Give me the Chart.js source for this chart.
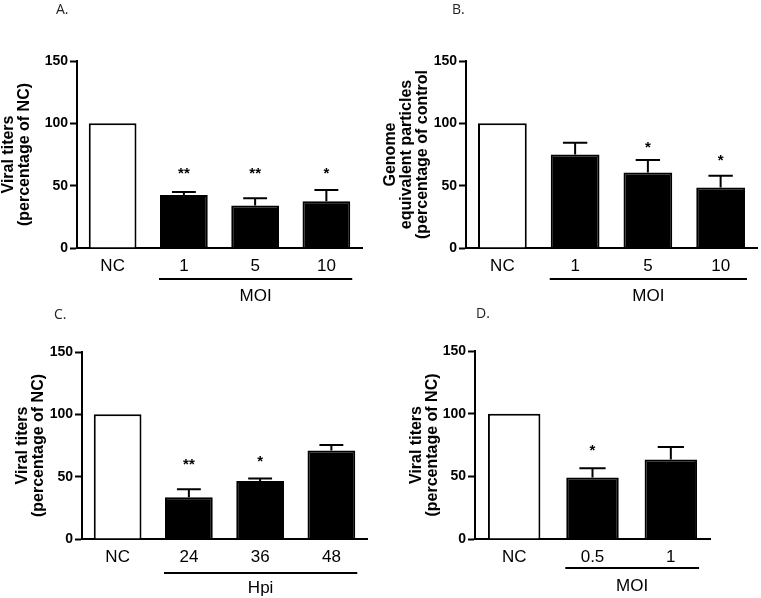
<!DOCTYPE html>
<html>
<head>
<meta charset="utf-8">
<script src="https://cdn.jsdelivr.net/npm/chart.js@4.4.0/dist/chart.umd.min.js"></script>
<style>
    body { margin: 0; background: #fff; }
    #wrap { position: relative; width: 761px; height: 598px; overflow: hidden; background: #fff; }
    #wrap canvas { position: absolute; }
    .tag { position: absolute; font: 14px "Open Sans", sans-serif; color: #222; line-height: 18px; }
</style>
</head>
<body>
<div id="wrap">
    <canvas id="chartA" width="380" height="310" style="left:0;top:0"></canvas>
    <canvas id="chartB" width="381" height="310" style="left:380px;top:0"></canvas>
    <canvas id="chartC" width="380" height="298" style="left:0;top:300px"></canvas>
    <canvas id="chartD" width="381" height="298" style="left:380px;top:300px"></canvas>
    <div class="tag" style="left:56px;top:0">A.</div>
    <div class="tag" style="left:452px;top:0">B.</div>
    <div class="tag" style="left:54px;top:305px">C.</div>
    <div class="tag" style="left:476px;top:304px">D.</div>
</div>
<script>
// panel A
var labelsA = ["NC", "1", "5", "10"];
var valuesA = [100, 42.5, 34, 37.5];
var errorsA = [0, 2.5, 6, 9];
var starsA = ["", "**", "**", "*"];
var starLevelsA = [0, 62, 62, 62];
var titleA = ["Viral titers", "(percentage of NC)"];
var groupA = "MOI";

// panel B
var labelsB = ["NC", "1", "5", "10"];
var valuesB = [100, 75, 60.5, 48.5];
var errorsB = [0, 9.5, 10, 9.5];
var starsB = ["", "", "*", "*"];
var starLevelsB = [0, 0, 82.5, 72];
var titleB = ["Genome", "equivalent particles", "(percentage of control"];
var groupB = "MOI";

// panel C
var labelsC = ["NC", "24", "36", "48"];
var valuesC = [100, 33.5, 46.5, 71];
var errorsC = [0, 6.5, 2, 4.5];
var starsC = ["", "**", "*", ""];
var starLevelsC = [0, 61.5, 64.5, 0];
var titleC = ["Viral titers", "(percentage of NC)"];
var groupC = "Hpi";

// panel D
var labelsD = ["NC", "0.5", "1"];
var valuesD = [100, 49, 63.5];
var errorsD = [0, 7.5, 10];
var starsD = ["", "*", ""];
var starLevelsD = [0, 73, 0];
var titleD = ["Viral titers", "(percentage of NC)"];
var groupD = "MOI";

var yTicks = [0, 50, 100, 150];

// error bars, stars and the group bracket under the axis
var extrasPlugin = {
    id: "extras",
    afterDatasetsDraw: function (chart, args, opts) {
        var ctx = chart.ctx;
        var y = chart.scales.y;
        var meta = chart.getDatasetMeta(0);
        ctx.save();
        ctx.strokeStyle = "#000";
        ctx.fillStyle = "#000";
        ctx.lineWidth = 2;
        meta.data.forEach(function (bar, i) {
            var err = opts.errors[i];
            if (err > 0) {
                var end = y.getPixelForValue(opts.values[i] + err);
                var half = bar.width / 4;
                ctx.beginPath();
                ctx.moveTo(bar.x, bar.y);
                ctx.lineTo(bar.x, end);
                ctx.moveTo(bar.x - half, end);
                ctx.lineTo(bar.x + half, end);
                ctx.stroke();
            }
            if (opts.stars[i]) {
                ctx.font = "bold 15px 'Liberation Sans', Arial";
                ctx.textAlign = "center";
                ctx.textBaseline = "middle";
                ctx.fillText(opts.stars[i], bar.x, y.getPixelForValue(opts.starLevels[i]) + 3);
            }
        });
        var first = meta.data[1];
        var last = meta.data[meta.data.length - 1];
        var x0 = first.x - first.width / 2 - 1;
        var x1 = last.x + last.width / 2 + 2;
        var bottom = chart.chartArea.bottom;
        ctx.beginPath();
        ctx.moveTo(x0, bottom + opts.lineGap);
        ctx.lineTo(x1, bottom + opts.lineGap);
        ctx.stroke();
        ctx.font = "17px 'Liberation Sans', Arial";
        ctx.textAlign = "center";
        ctx.textBaseline = "middle";
        ctx.fillText(opts.group, (x0 + x1) / 2, bottom + opts.labelGap);
        ctx.restore();
    }
};

function drawPanel(id, labels, values, errors, stars, starLevels, title, group, box) {
    var canvas = document.getElementById(id);
    new Chart(canvas, {
        type: "bar",
        data: {
            labels: labels,
            datasets: [
                {
                    data: values,
                    backgroundColor: values.map(function (v, i) { return i === 0 ? "#fff" : "#000"; }),
                    borderColor: "#000",
                    borderWidth: 2,
                    categoryPercentage: 1,
                    barPercentage: 0.67,
                },
            ],
        },
        options: {
            responsive: false,
            animation: false,
            layout: {
                padding: { left: 0, top: box.top, right: box.right, bottom: 0 },
            },
            plugins: {
                legend: { display: false },
                tooltip: { enabled: false },
                extras: {
                    values: values,
                    errors: errors,
                    stars: stars,
                    starLevels: starLevels,
                    group: group,
                    lineGap: box.lineGap,
                    labelGap: box.labelGap,
                },
            },
            scales: {
                x: {
                    afterFit: function (s) { s.height = canvas.height - box.bottom; },
                    grid: { display: false },
                    border: { display: true, color: "#000", width: 2 },
                    ticks: {
                        color: "#000",
                        padding: 2,
                        font: { family: "'Liberation Sans', Arial", size: 17, lineHeight: 1 },
                    },
                },
                y: {
                    min: 0,
                    max: 150,
                    afterFit: function (s) { s.width = box.left; },
                    afterBuildTicks: function (s) {
                        s.ticks = yTicks.map(function (v) { return { value: v }; });
                    },
                    grid: {
                        display: true,
                        drawOnChartArea: false,
                        drawTicks: true,
                        tickLength: 7,
                        tickWidth: 2,
                        color: "#000",
                    },
                    border: { display: true, color: "#000", width: 2 },
                    ticks: {
                        color: "#000",
                        padding: 2,
                        font: { family: "'Liberation Sans', Arial", size: 14, weight: "bold" },
                    },
                    title: {
                        display: true,
                        text: title,
                        color: "#000",
                        padding: { top: box.titlePad, bottom: 0 },
                        font: { family: "'Liberation Sans', Arial", size: 16, weight: "bold", lineHeight: 1 },
                    },
                },
            },
        },
        plugins: [extrasPlugin],
    });
}

drawPanel("chartA", labelsA, valuesA, errorsA, starsA, starLevelsA, titleA, groupA,
    { left: 77, right: 18, top: 61, bottom: 248, titlePad: 1, lineGap: 31, labelGap: 48 });
drawPanel("chartB", labelsB, valuesB, errorsB, starsB, starLevelsB, titleB, groupB,
    { left: 86, right: 4, top: 61, bottom: 248, titlePad: 3, lineGap: 31, labelGap: 48 });
drawPanel("chartC", labelsC, valuesC, errorsC, starsC, starLevelsC, titleC, groupC,
    { left: 82, right: 13, top: 52, bottom: 239, titlePad: 15, lineGap: 34, labelGap: 49 });
drawPanel("chartD", labelsD, valuesD, errorsD, starsD, starLevelsD, titleD, groupD,
    { left: 95, right: 51, top: 51, bottom: 239, titlePad: 29, lineGap: 29, labelGap: 47 });
</script>
</body>
</html>
